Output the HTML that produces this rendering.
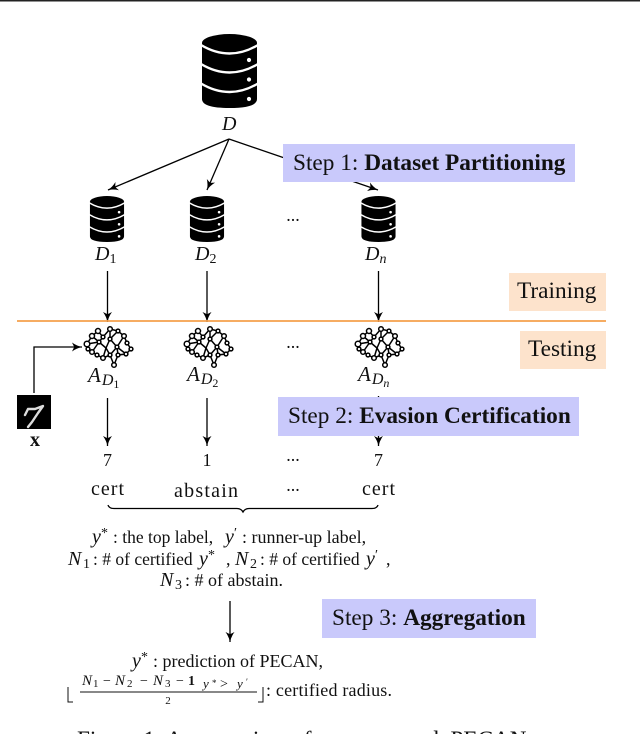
<!DOCTYPE html>
<html><head><meta charset="utf-8">
<style>
html,body{margin:0;padding:0;background:#fff;width:640px;height:734px;overflow:hidden}
svg{display:block}
text{font-family:"Liberation Serif",serif;fill:#111}
.i{font-style:italic}
.s{font-size:23.3px}
.m{font-size:18px}
.v{font-size:20px;font-style:italic}
.d{font-size:20px}
.a{font-size:21px}
.sub{font-size:14px}
.ssub{font-size:12px}
.fv{font-size:15px;font-style:italic}
.fn{font-size:11px}
.fy{font-size:13px;font-style:italic}
</style></head><body>
<svg width="640" height="734" viewBox="0 0 640 734" xmlns="http://www.w3.org/2000/svg">
<defs>
<marker id="a" markerWidth="12" markerHeight="12" refX="10" refY="5" orient="auto" markerUnits="userSpaceOnUse"><path d="M0 0.500 Q4.500 3.800 10 5 Q4.500 6.200 0 9.500 L2.200 5Z" fill="#000"/></marker>
<g id="db">
<path d="M-27.500 -28 A27.500 9 0 0 1 27.500 -28 V28 Q27.500 37 0 37 Q-27.500 37 -27.500 28Z" fill="#000"/>
<g fill="none" stroke="#fff" stroke-width="2.400">
<path d="M-28.500 -26 Q0 -9 28.500 -26"/>
<path d="M-28.500 -7 Q0 10 28.500 -7"/>
<path d="M-28.500 12.500 Q0 29.500 28.500 12.500"/>
</g>
<circle cx="19.500" cy="-11" r="2.100" fill="#fff"/><circle cx="19.500" cy="8.500" r="2.100" fill="#fff"/><circle cx="19.500" cy="28" r="2.100" fill="#fff"/>
</g>
<g id="br" fill="#fff" stroke="#000" stroke-width="1.500">
<path fill="none" d="M-20 -2 L-15 -10 L-9 -15 L-4 -9 L3 -17 L11 -15 L17 -10 L20 -3 L24 3 L19 8 L11 9 L9 14 L7 19 L3 9 L-4 12 L-10 9 L-15 6 L-19 3 Z M-15 -10 L-8 -4 L-4 -9 M-8 -4 L-15 6 M-8 -4 L-1 2 L-4 12 M-1 2 L3 -7 L3 -17 M3 -7 L11 -15 M3 -7 L10 1 L17 -10 M10 1 L19 8 M10 1 L3 9 M-1 2 L3 9 M-20 -2 L-8 -4 M10 1 L11 9"/>
<circle cx="-20" cy="-2" r="2.800"/><circle cx="-15" cy="-10" r="2.500"/><circle cx="-9" cy="-15" r="2.500"/><circle cx="-4" cy="-9" r="1.900"/><circle cx="3" cy="-17" r="2.300"/><circle cx="11" cy="-15" r="1.900"/><circle cx="17" cy="-10" r="2.300"/><circle cx="20" cy="-3" r="1.900"/><circle cx="24" cy="3" r="1.900"/><circle cx="19" cy="8" r="1.900"/><circle cx="11" cy="9" r="1.900"/><circle cx="7" cy="19" r="2.300"/><circle cx="3" cy="9" r="1.900"/><circle cx="-4" cy="12" r="2.300"/><circle cx="-10" cy="9" r="1.900"/><circle cx="-15" cy="6" r="2.300"/><circle cx="-19" cy="3" r="1.900"/><circle cx="-8" cy="-4" r="1.900"/><circle cx="3" cy="-7" r="1.900"/><circle cx="10" cy="1" r="1.900"/>
</g>
</defs>

<rect x="0" y="0" width="640" height="1.500" fill="#222"/>

<use href="#db" x="229.500" y="71"/>
<g transform="translate(107 219) scale(.62)"><use href="#db"/></g>
<g transform="translate(207 219) scale(.62)"><use href="#db"/></g>
<g transform="translate(378.500 219) scale(.62)"><use href="#db"/></g>

<text x="222" y="130" class="i" font-size="20">D</text>

<g stroke="#000" stroke-width="1.300" fill="none">
<line x1="229" y1="139" x2="108" y2="190" marker-end="url(#a)"/>
<line x1="229" y1="139" x2="207" y2="190" marker-end="url(#a)"/>
<line x1="229" y1="139" x2="378" y2="190" marker-end="url(#a)"/>
<line x1="107.500" y1="271" x2="107.500" y2="322" marker-end="url(#a)"/>
<line x1="207" y1="271" x2="207" y2="322" marker-end="url(#a)"/>
<line x1="378.500" y1="271" x2="378.500" y2="322" marker-end="url(#a)"/>
<path d="M34 393 V347 H82" marker-end="url(#a)"/>
<line x1="107.500" y1="398" x2="107.500" y2="446" marker-end="url(#a)"/>
<line x1="207" y1="398" x2="207" y2="446" marker-end="url(#a)"/>
<line x1="378.500" y1="396" x2="378.500" y2="446" marker-end="url(#a)"/>
<line x1="230" y1="601" x2="230" y2="642" marker-end="url(#a)"/>
<path d="M108 505 Q109 508.500 114 508.500 H237 Q241 508.500 243 512 Q245 508.500 249 508.500 H372 Q377 508.500 378 505"/>
</g>

<line x1="17" y1="321" x2="606" y2="321" stroke="#f5a04c" stroke-width="1.700"/>

<rect x="283" y="144" width="292" height="38" fill="#c9c9fb"/>
<rect x="278" y="397" width="301" height="39" fill="#c9c9fb"/>
<rect x="322" y="599" width="214" height="39" fill="#c9c9fb"/>
<rect x="509" y="273" width="97" height="38" fill="#fde3cc"/>
<rect x="520" y="331" width="86" height="38" fill="#fde3cc"/>

<text x="293" y="170" class="s">Step 1: <tspan font-weight="bold">Dataset Partitioning</tspan></text>
<text x="288" y="423" class="s">Step 2: <tspan font-weight="bold">Evasion Certification</tspan></text>
<text x="332" y="625" class="s">Step 3: <tspan font-weight="bold">Aggregation</tspan></text>
<text x="517" y="298" class="s">Training</text>
<text x="528" y="356" class="s">Testing</text>

<text x="95" y="260" class="i d">D<tspan class="sub" dy="3" font-style="normal">1</tspan></text>
<text x="195" y="260" class="i d">D<tspan class="sub" dy="3" font-style="normal">2</tspan></text>
<text x="365" y="260" class="i d">D<tspan class="sub" dy="3">n</tspan></text>

<text x="293" y="221" text-anchor="middle" class="m">...</text>
<text x="293" y="348" text-anchor="middle" class="m">...</text>
<text x="293" y="461" text-anchor="middle" class="m">...</text>
<text x="293" y="491" text-anchor="middle" class="m">...</text>

<use href="#br" x="107" y="346"/>
<use href="#br" x="207" y="346"/>
<use href="#br" x="378" y="346"/>

<text x="88" y="382" class="i a">A<tspan font-size="16" dy="3" dx="1">D</tspan><tspan class="ssub" dy="3" font-style="normal">1</tspan></text>
<text x="187" y="381" class="i a">A<tspan font-size="16" dy="3" dx="1">D</tspan><tspan class="ssub" dy="3" font-style="normal">2</tspan></text>
<text x="358" y="381" class="i a">A<tspan font-size="16" dy="3" dx="1">D</tspan><tspan class="ssub" dy="3">n</tspan></text>

<rect x="17" y="395" width="34" height="34" fill="#000"/>
<path d="M25 415 L28 409 L35 409 L43 406 L38 413 L32 422 L28 427" fill="none" stroke="#ddd" stroke-width="2.400" stroke-linecap="round" stroke-linejoin="round"/>
<text x="35" y="446" text-anchor="middle" font-size="20" font-weight="bold">x</text>

<text x="107.500" y="466" text-anchor="middle" class="m">7</text>
<text x="207" y="466" text-anchor="middle" class="m">1</text>
<text x="378.500" y="466" text-anchor="middle" class="m">7</text>

<text x="91" y="495" font-size="20" textLength="33" lengthAdjust="spacing">cert</text>
<text x="174" y="497" font-size="20" textLength="64" lengthAdjust="spacing">abstain</text>
<text x="362" y="495" font-size="20" textLength="33" lengthAdjust="spacing">cert</text>

<text y="543" class="m"><tspan x="92" class="v">y</tspan><tspan class="sub" x="101" dy="-6">*</tspan><tspan x="113" dy="6" font-size="17.500">: the top label,</tspan><tspan x="225" class="v">y</tspan><tspan class="sub" x="234" dy="-6">′</tspan><tspan x="242" dy="6">: runner-up label,</tspan></text>

<text y="565" class="m"><tspan x="68" class="v">N</tspan><tspan class="sub" x="83" dy="3">1</tspan><tspan x="93" dy="-3" font-size="17.500">: # of certified</tspan><tspan x="199" class="v">y</tspan><tspan class="sub" x="208" dy="-6">*</tspan><tspan x="226" dy="6">,</tspan><tspan x="235" class="v">N</tspan><tspan class="sub" x="250" dy="3">2</tspan><tspan x="260" dy="-3" font-size="17.500">: # of certified</tspan><tspan x="366" class="v">y</tspan><tspan class="sub" x="375" dy="-6">′</tspan><tspan x="386" dy="6">,</tspan></text>

<text y="586" class="m"><tspan x="160" class="v">N</tspan><tspan class="sub" x="175" dy="3">3</tspan><tspan x="185" dy="-3">: # of abstain.</tspan></text>

<text y="667" class="m"><tspan x="132" class="v">y</tspan><tspan class="sub" x="141" dy="-6">*</tspan><tspan x="153" dy="6">: prediction of PECAN,</tspan></text>

<path d="M68 687 V702 H73" fill="none" stroke="#111" stroke-width="1"/>
<path d="M263 687 V702 H258" fill="none" stroke="#111" stroke-width="1"/>
<text y="685" font-size="14"><tspan x="82" class="fv">N</tspan><tspan x="93" class="fn" dy="2">1</tspan><tspan x="103" dy="-2">−</tspan><tspan x="115" class="fv">N</tspan><tspan x="127" class="fn" dy="2">2</tspan><tspan x="140" dy="-2">−</tspan><tspan x="153" class="fv">N</tspan><tspan x="165" class="fn" dy="2">3</tspan><tspan x="176" dy="-2">−</tspan><tspan x="188" font-weight="bold">1</tspan><tspan x="203" class="fy" dy="3">y</tspan><tspan x="212" font-size="9" dy="-2">*</tspan><tspan x="220" font-size="14" dy="2">&gt;</tspan><tspan x="237" class="fy">y</tspan><tspan x="246" font-size="9" dy="-3">′</tspan></text>
<line x1="80" y1="692" x2="257" y2="692" stroke="#111" stroke-width="1.100"/>
<text x="168" y="704" font-size="11" text-anchor="middle">2</text>
<text x="266" y="696" class="m" textLength="126" lengthAdjust="spacing">: certified radius.</text>

<text x="77" y="747" font-size="23.200">Figure 1: An overview of our proposed, PECAN</text>
</svg>
</body></html>
